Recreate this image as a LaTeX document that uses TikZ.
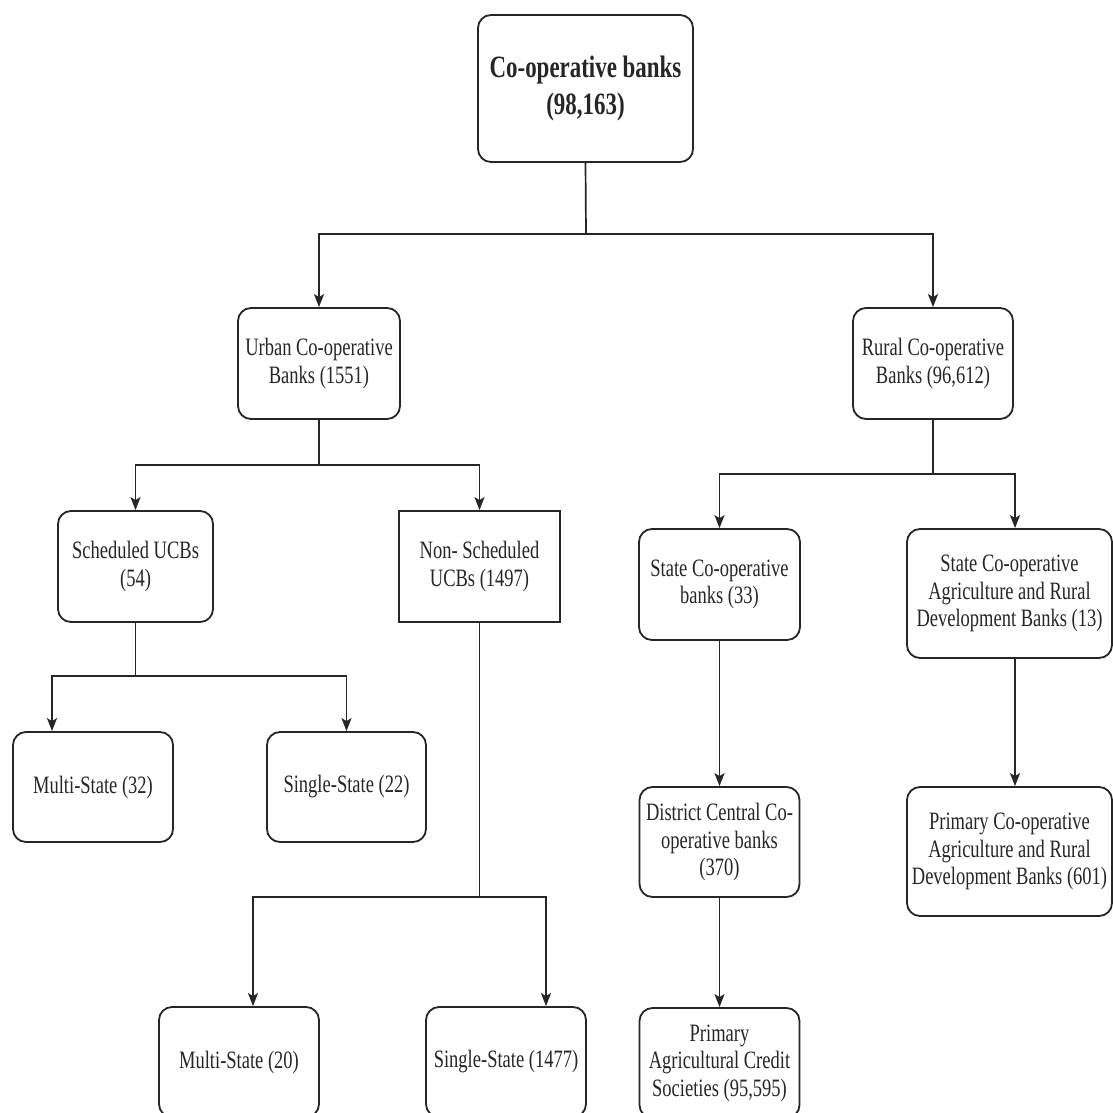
\documentclass[tikz,border=0pt]{standalone}
\usepackage{fontspec}
\setmainfont{Liberation Serif}[FakeStretch=0.74]
\usetikzlibrary{arrows.meta}
\begin{document}
\begin{tikzpicture}[x=1pt,y=-1pt,
  box/.style={draw=black!85, line width=1.8pt, rounded corners=13pt, align=center,
    inner sep=0pt, font=\fontsize{25}{27.5}\selectfont, text=black!85},
  sq/.style={box, rounded corners=0pt},
  arr/.style={-{Stealth[length=13pt,width=10pt,inset=3pt]}, line width=1.7pt, draw=black!85},
  ln/.style={line width=1.7pt, draw=black!85}]
\useasboundingbox (0,0) rectangle (1113,1113);
\fill[white] (0,0) rectangle (1113,1113);

\node[box, minimum width=215pt, minimum height=147pt,
  font=\bfseries\fontsize{31}{37}\selectfont] (top) at (585.5,88.5) {Co-operative banks\\(98,163)};
\node[box, minimum width=162pt, minimum height=111pt] (urban) at (319,363.5) {Urban Co-operative\\Banks (1551)};
\node[box, minimum width=160pt, minimum height=111pt] (rural) at (933,363.5) {Rural Co-operative\\Banks (96,612)};
\node[box, minimum width=155pt, minimum height=111pt] (sched) at (135.5,566.5) {Scheduled UCBs\\(54)};
\node[sq, minimum width=161pt, minimum height=111pt] (nonsched) at (479.5,566.5) {Non- Scheduled\\UCBs (1497)};
\node[box, minimum width=161pt, minimum height=111pt] (stateco) at (719.5,584.5) {State Co-operative\\banks (33)};
\node[box, minimum width=205pt, minimum height=129pt] (sca) at (1009.5,593.5) {State Co-operative\\Agriculture and Rural\\Development Banks (13)};
\node[box, minimum width=160pt, minimum height=110pt] (ms32) at (93,787) {Multi-State (32)};
\node[box, minimum width=159pt, minimum height=110pt] (ss22) at (346.5,787) {Single-State (22)};
\node[box, minimum width=160pt, minimum height=110pt] (ms20) at (239,1062) {Multi-State (20)};
\node[box, minimum width=160pt, minimum height=110pt] (ss1477) at (506,1062) {Single-State (1477)};
\node[box, minimum width=160pt, minimum height=110pt] (dccb) at (719.5,842) {District Central Co-\\operative banks\\(370)};
\node[box, minimum width=160pt, minimum height=110pt] (pacs) at (719.5,1063) {Primary\\Agricultural Credit\\Societies (95,595)};
\node[box, minimum width=205pt, minimum height=129pt] (pca) at (1009.5,851.5) {Primary Co-operative\\Agriculture and Rural\\Development Banks (601)};

\coordinate (b1) at (586,234);
\coordinate (b2) at (319,465);
\coordinate (b3) at (933,474);
\coordinate (b4) at (135.5,676);
\coordinate (b5) at (479.5,897);

\draw[ln] (top.south) -- (b1);
\draw[arr] (b1) -| (urban.north);
\draw[arr] (b1) -| (rural.north);
\draw[ln] (urban.south) -- (b2);
\draw[arr] (b2) -| (sched.north);
\draw[arr] (b2) -| (nonsched.north);
\draw[ln] (rural.south) -- (b3);
\draw[arr] (b3) -| (stateco.north);
\draw[arr] (b3) -| ([xshift=5.5pt]sca.north);
\draw[ln] (sched.south) -- (b4);
\draw[arr] (b4) -| ([xshift=-41pt]ms32.north);
\draw[arr] (b4) -| (ss22.north);
\draw[ln] (nonsched.south) -- (b5);
\draw[arr] (b5) -| ([xshift=14pt]ms20.north);
\draw[arr] (b5) -| ([xshift=40pt]ss1477.north);
\draw[arr] (stateco.south) -- (dccb.north);
\draw[arr] (dccb.south) -- (pacs.north);
\draw[arr] ([xshift=5.5pt]sca.south) -- ([xshift=5.5pt]pca.north);
\end{tikzpicture}
\end{document}
